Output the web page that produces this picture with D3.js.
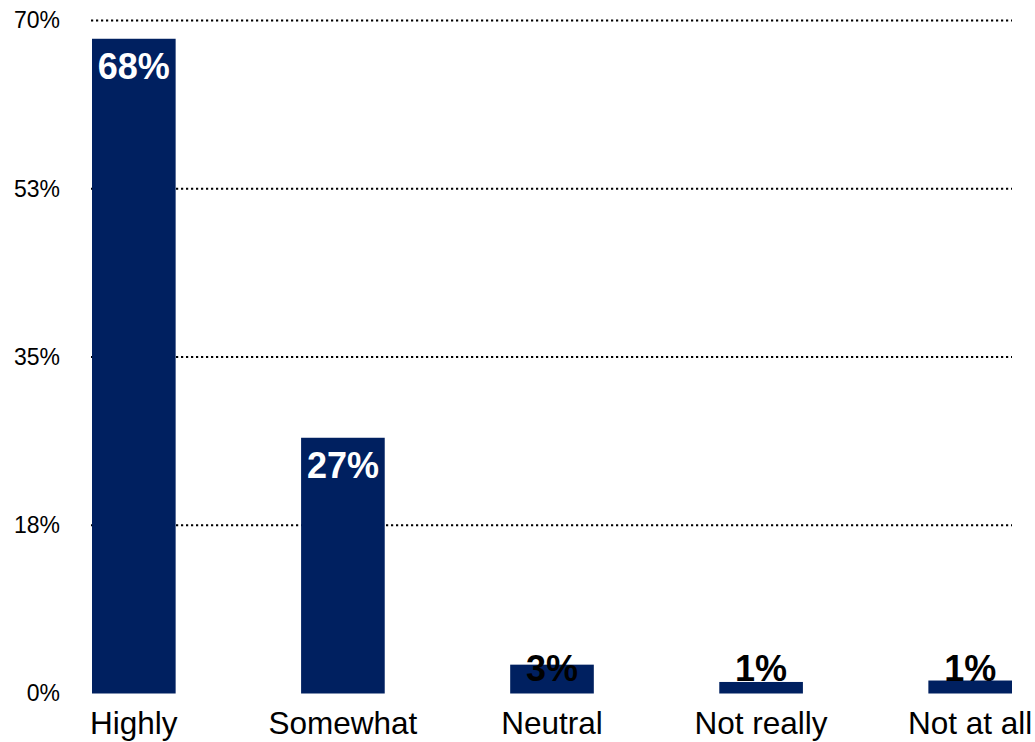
<!DOCTYPE html>
<html>
<head>
<meta charset="utf-8">
<script src="https://cdn.jsdelivr.net/npm/d3@7"></script>
<style>
  html, body { margin: 0; padding: 0; background: #fff; }
  svg { display: block; font-family: "Liberation Sans", Arial, sans-serif; }
</style>
</head>
<body>
<svg id="chart" width="1035" height="742"></svg>
<script>
const categories = ["Highly", "Somewhat", "Neutral", "Not really", "Not at all"];
const values = [68.1, 26.6, 3.0, 1.2, 1.35];
const valueLabels = ["68%", "27%", "3%", "1%", "1%"];
const tickValues = [0, 17.5, 35, 52.5, 70];
const tickLabels = ["0%", "18%", "35%", "53%", "70%"];

const svg = d3.select("#chart");
const x = d3.scaleBand().domain(categories).range([92, 1012]).paddingInner(0.6).paddingOuter(0);
const y = d3.scaleLinear().domain([0, 70]).range([693.5, 20.5]);

// gridlines
svg.append("g").selectAll("line")
  .data(tickValues.filter(d => d > 0))
  .join("line")
  .attr("x1", 91).attr("x2", 1012)
  .attr("y1", d => y(d)).attr("y2", d => y(d))
  .attr("stroke", "#000").attr("stroke-width", 2)
  .attr("stroke-dasharray", "2.2,2.8");

// y axis labels
const yAxis = d3.axisLeft(y).tickValues(tickValues)
  .tickFormat((d, i) => tickLabels[i]).tickSize(0).tickPadding(0);
const ya = svg.append("g").attr("transform", "translate(60,0)").call(yAxis);
ya.select(".domain").remove();
ya.selectAll("text").attr("font-size", 23).attr("fill", "#000")
  .attr("font-family", "'Liberation Sans', Arial, sans-serif");

// bars
svg.append("g").selectAll("rect")
  .data(values)
  .join("rect")
  .attr("x", (d, i) => x(categories[i]))
  .attr("width", x.bandwidth())
  .attr("y", d => y(d))
  .attr("height", d => y(0) - y(d))
  .attr("fill", "#002060");

// value labels
svg.append("g").selectAll("text")
  .data(values)
  .join("text")
  .attr("x", (d, i) => x(categories[i]) + x.bandwidth() / 2)
  .attr("y", d => Math.min(y(d) + 40, y(0) - 13))
  .attr("text-anchor", "middle")
  .attr("font-size", 36).attr("font-weight", "bold")
  .attr("fill", d => (y(0) - y(d) > 45 ? "#fff" : "#000"))
  .text((d, i) => valueLabels[i]);

// category labels
const xAxis = d3.axisBottom(x).tickSize(0).tickPadding(0);
const xa = svg.append("g").attr("transform", "translate(0,0)").call(xAxis);
xa.select(".domain").remove();
xa.selectAll("text").attr("y", 734).attr("dy", null)
  .attr("font-size", 31.5).attr("fill", "#000")
  .attr("font-family", "'Liberation Sans', Arial, sans-serif");
</script>
</body>
</html>
